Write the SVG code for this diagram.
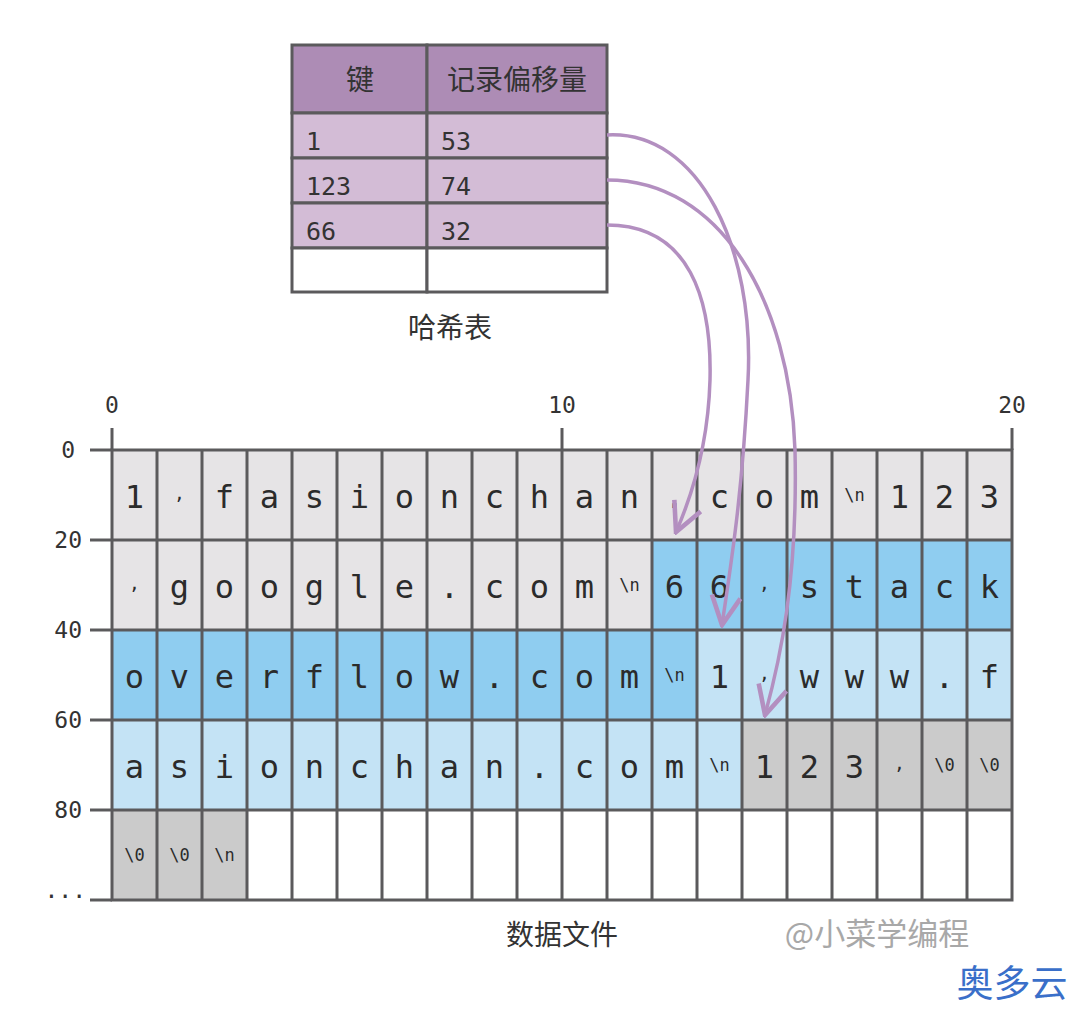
<svg xmlns="http://www.w3.org/2000/svg" width="1080" height="1013" viewBox="0 0 1080 1013">
<style>
.c{stroke:#5b5a5c;stroke-width:3}
.lg{fill:#e6e4e6}.dg{fill:#cbcbcb}.db{fill:#8fcdf0}.lb{fill:#c4e3f5}.w{fill:#fff}
.t{font-family:"DejaVu Sans Mono",monospace;font-size:32px;fill:#2b2b2b;text-anchor:middle}
.s{font-family:"DejaVu Sans Mono",monospace;font-size:17px;fill:#2b2b2b;text-anchor:middle}
.cm{font-family:"DejaVu Sans Mono",monospace;font-size:18px;fill:#2b2b2b;text-anchor:middle}
.ax{font-family:"DejaVu Sans Mono",monospace;font-size:23px;fill:#333}
.h{fill:#ad8cb5}.b{fill:#d3bcd6}
.tt{font-family:"DejaVu Sans Mono","Noto Sans CJK SC",monospace;font-size:25px;fill:#333}
.cj{font-family:"Noto Sans CJK SC",sans-serif;fill:#333;text-anchor:middle}
.ar{fill:none;stroke:#b38fc0;stroke-width:3.5}
</style>
<defs>
<marker id="v" markerWidth="34" markerHeight="34" refX="24" refY="13" orient="auto" markerUnits="userSpaceOnUse" viewBox="0 0 26 26"><path d="M2,2 L24,13 L2,24" fill="none" stroke="#b38fc0" stroke-width="3.5"/></marker>
</defs>
<g id="hash-table">
<rect class="h c" x="292" y="45" width="135" height="68"/><rect class="h c" x="427" y="45" width="180" height="68"/>
<rect class="b c" x="292" y="113" width="135" height="45"/><rect class="b c" x="427" y="113" width="180" height="45"/>
<rect class="b c" x="292" y="158" width="135" height="45"/><rect class="b c" x="427" y="158" width="180" height="45"/>
<rect class="b c" x="292" y="203" width="135" height="45"/><rect class="b c" x="427" y="203" width="180" height="45"/>
<rect class="w c" x="292" y="248" width="135" height="44"/><rect class="w c" x="427" y="248" width="180" height="44"/>
<text class="cj" x="360" y="90" font-size="28">键</text>
<text class="cj" x="517" y="90" font-size="28">记录偏移量</text>
<text class="tt" x="306" y="150">1</text><text class="tt" x="441" y="150">53</text>
<text class="tt" x="306" y="195">123</text><text class="tt" x="441" y="195">74</text>
<text class="tt" x="306" y="240">66</text><text class="tt" x="441" y="240">32</text>
<text class="cj" x="450" y="338" font-size="28">哈希表</text>
</g>
<g id="axes" stroke="#5b5a5c" stroke-width="3">
<line x1="112" y1="428" x2="112" y2="450"/><line x1="562" y1="428" x2="562" y2="450"/><line x1="1012" y1="428" x2="1012" y2="450"/>
<line x1="90" y1="450" x2="112" y2="450"/><line x1="90" y1="540" x2="112" y2="540"/><line x1="90" y1="630" x2="112" y2="630"/><line x1="90" y1="720" x2="112" y2="720"/><line x1="90" y1="810" x2="112" y2="810"/><line x1="90" y1="900" x2="112" y2="900"/>
</g>
<g id="axis-labels" class="ax">
<text x="112" y="413" text-anchor="middle">0</text><text x="562" y="413" text-anchor="middle">10</text><text x="1012" y="413" text-anchor="middle">20</text>
<text x="75" y="458" text-anchor="end">0</text><text x="82" y="548" text-anchor="end">20</text><text x="82" y="638" text-anchor="end">40</text><text x="82" y="728" text-anchor="end">60</text><text x="82" y="818" text-anchor="end">80</text><text x="86" y="898" text-anchor="end">...</text>
</g>
<g id="data-file">
<rect class="lg" x="112" y="450" width="900" height="90"/>
<rect class="lg" x="112" y="540" width="540" height="90"/><rect class="db" x="652" y="540" width="360" height="90"/>
<rect class="db" x="112" y="630" width="585" height="90"/><rect class="lb" x="697" y="630" width="315" height="90"/>
<rect class="lb" x="112" y="720" width="630" height="90"/><rect class="dg" x="742" y="720" width="270" height="90"/>
<rect class="dg" x="112" y="810" width="135" height="90"/><rect class="w" x="247" y="810" width="765" height="90"/>
<g class="c" fill="none">
<rect x="112" y="450" width="900" height="450"/>
<path d="M112,540H1012M112,630H1012M112,720H1012M112,810H1012"/>
<path d="M157,450V900M202,450V900M247,450V900M292,450V900M337,450V900M382,450V900M427,450V900M472,450V900M517,450V900M562,450V900M607,450V900M652,450V900M697,450V900M742,450V900M787,450V900M832,450V900M877,450V900M922,450V900M967,450V900"/>
</g>
<g class="t">
<text x="134.5" y="508">1</text><text x="224.5" y="508">f</text><text x="269.5" y="508">a</text><text x="314.5" y="508">s</text><text x="359.5" y="508">i</text><text x="404.5" y="508">o</text><text x="449.5" y="508">n</text><text x="494.5" y="508">c</text><text x="539.5" y="508">h</text><text x="584.5" y="508">a</text><text x="629.5" y="508">n</text><text x="674.5" y="508">.</text><text x="719.5" y="508">c</text><text x="764.5" y="508">o</text><text x="809.5" y="508">m</text><text x="899.5" y="508">1</text><text x="944.5" y="508">2</text><text x="989.5" y="508">3</text>
<text x="179.5" y="598">g</text><text x="224.5" y="598">o</text><text x="269.5" y="598">o</text><text x="314.5" y="598">g</text><text x="359.5" y="598">l</text><text x="404.5" y="598">e</text><text x="449.5" y="598">.</text><text x="494.5" y="598">c</text><text x="539.5" y="598">o</text><text x="584.5" y="598">m</text><text x="674.5" y="598">6</text><text x="719.5" y="598">6</text><text x="809.5" y="598">s</text><text x="854.5" y="598">t</text><text x="899.5" y="598">a</text><text x="944.5" y="598">c</text><text x="989.5" y="598">k</text>
<text x="134.5" y="688">o</text><text x="179.5" y="688">v</text><text x="224.5" y="688">e</text><text x="269.5" y="688">r</text><text x="314.5" y="688">f</text><text x="359.5" y="688">l</text><text x="404.5" y="688">o</text><text x="449.5" y="688">w</text><text x="494.5" y="688">.</text><text x="539.5" y="688">c</text><text x="584.5" y="688">o</text><text x="629.5" y="688">m</text><text x="719.5" y="688">1</text><text x="809.5" y="688">w</text><text x="854.5" y="688">w</text><text x="899.5" y="688">w</text><text x="944.5" y="688">.</text><text x="989.5" y="688">f</text>
<text x="134.5" y="778">a</text><text x="179.5" y="778">s</text><text x="224.5" y="778">i</text><text x="269.5" y="778">o</text><text x="314.5" y="778">n</text><text x="359.5" y="778">c</text><text x="404.5" y="778">h</text><text x="449.5" y="778">a</text><text x="494.5" y="778">n</text><text x="539.5" y="778">.</text><text x="584.5" y="778">c</text><text x="629.5" y="778">o</text><text x="674.5" y="778">m</text><text x="764.5" y="778">1</text><text x="809.5" y="778">2</text><text x="854.5" y="778">3</text>
</g>
<g class="cm">
<text x="179.5" y="500">,</text><text x="134.5" y="590">,</text><text x="764.5" y="590">,</text><text x="764.5" y="680">,</text><text x="899.5" y="770">,</text>
</g>
<g class="s">
<text x="854.5" y="501">\n</text><text x="629.5" y="591">\n</text><text x="674.5" y="681">\n</text><text x="719.5" y="771">\n</text><text x="944.5" y="771">\0</text><text x="989.5" y="771">\0</text>
<text x="134.5" y="861">\0</text><text x="179.5" y="861">\0</text><text x="224.5" y="861">\n</text>
</g>
<text class="cj" x="562" y="945" font-size="28">数据文件</text>
</g>
<g id="connectors">
<path class="ar" marker-end="url(#v)" d="M607,135 C700,130 755,250 748,380 C742,500 730,570 722,625"/>
<path class="ar" marker-end="url(#v)" d="M607,180 C720,180 790,300 795,450 C798,580 780,660 765,715"/>
<path class="ar" marker-end="url(#v)" d="M607,225 C690,225 712,300 710,380 C708,450 690,500 676,532"/>
</g>
<text x="877" y="945" font-family="Noto Sans CJK SC,sans-serif" font-size="31" fill="#a8a8a8" text-anchor="middle">@小菜学编程</text>
<text x="1012" y="997" font-family="Noto Sans CJK SC,sans-serif" font-size="37" fill="#3a6fc9" text-anchor="middle">奥多云</text>
</svg>
